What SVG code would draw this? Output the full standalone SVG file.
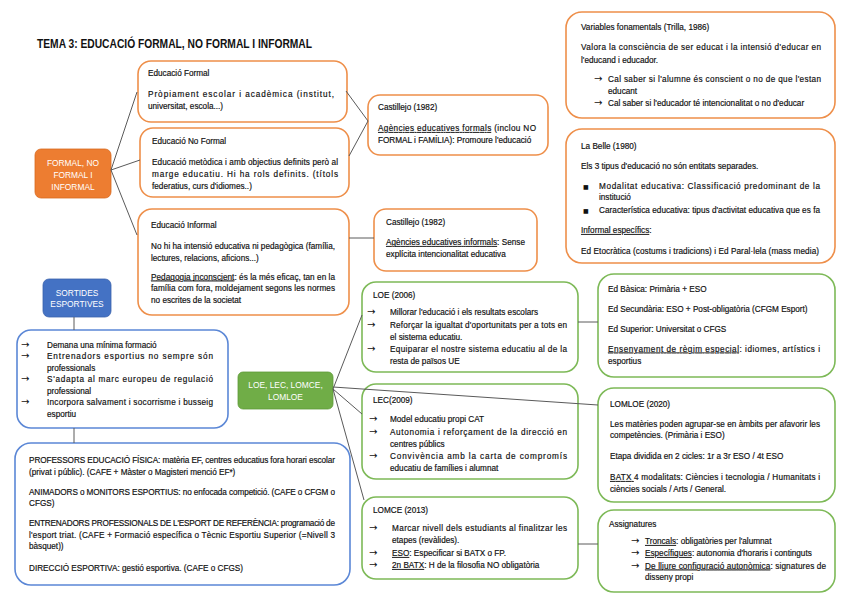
<svg xmlns="http://www.w3.org/2000/svg" width="848" height="599" viewBox="0 0 848 599">
<style>
text{font-family:"Liberation Sans",Arial,sans-serif;font-size:8.2px;fill:#111;stroke:#111;stroke-width:0.18}
.ttl{font-size:12.5px;font-weight:bold;fill:#111;stroke:none}
.w{fill:#fff;stroke:none;font-size:8.4px;text-anchor:middle}
.ar{font-family:"DejaVu Sans",sans-serif;font-size:10px;stroke:none}
.sq{font-family:"DejaVu Sans",sans-serif;font-size:6px;stroke:none}
.u{text-decoration:underline}
.bo{fill:#fff;stroke:#EE8F4A;stroke-width:1.6}
.bg{fill:#fff;stroke:#7DB957;stroke-width:1.6}
.bb{fill:#fff;stroke:#5B87D6;stroke-width:1.6}
.con line{stroke:#5a5a5a;stroke-width:1}
</style>
<rect width="848" height="599" fill="#fff"/>
<text class="ttl" x="37" y="47.5" textLength="275" lengthAdjust="spacingAndGlyphs">TEMA 3: EDUCACIÓ FORMAL, NO FORMAL I INFORMAL</text>

<g id="n-formal-root"><rect x="35" y="149" width="76" height="49" rx="6" fill="#ED7D31" stroke="#D86A20" stroke-width="0.8"/>
<text class="w" x="73" y="165.5">FORMAL, NO</text><text class="w" x="73" y="177.5">FORMAL I</text><text class="w" x="73" y="189.5">INFORMAL</text></g>

<g id="n-ed-formal"><rect class="bo" x="138" y="61" width="209" height="61" rx="13"/>
<text x="148" y="76">Educació Formal</text>
<text x="148" y="97" textLength="186">Pròpiament escolar i acadèmica (institut,</text>
<text x="148" y="109">universitat, escola...)</text></g>

<g id="n-ed-noformal"><rect class="bo" x="140" y="128" width="209" height="69" rx="13"/>
<text x="152" y="144">Educació No Formal</text>
<text x="152" y="164.5" textLength="186">Educació metòdica i amb objectius definits però al</text>
<text x="152" y="176.5" textLength="186">marge educatiu. Hi ha rols definits. (títols</text>
<text x="152" y="188.5">federatius, curs d'idiomes..)</text></g>

<g id="n-ed-informal"><rect class="bo" x="138" y="209" width="211" height="106" rx="14"/>
<text x="151" y="228">Educació Informal</text>
<text x="151" y="249" textLength="184">No hi ha intensió educativa ni pedagògica (família,</text>
<text x="151" y="260.5">lectures, relacions, aficions...)</text>
<text x="151" y="279.5" textLength="184"><tspan class="u">Pedagogia inconscient</tspan>: és la més eficaç, tan en la</text>
<text x="151" y="291" textLength="184">família com fora, moldejament segons les normes</text>
<text x="151" y="302.5">no escrites de la societat</text></g>

<g id="n-castillejo-1"><rect class="bo" x="368" y="95" width="180" height="60" rx="12"/>
<text x="378" y="110">Castillejo (1982)</text>
<text x="378" y="131" textLength="158"><tspan class="u">Agències educatives formals</tspan> (inclou NO</text>
<text x="378" y="143">FORMAL i FAMÍLIA): Promoure l'educació</text></g>

<g id="n-castillejo-2"><rect class="bo" x="374" y="209" width="163" height="62" rx="12"/>
<text x="386" y="225">Castillejo (1982)</text>
<text x="386" y="245" textLength="139"><tspan class="u">Agències educatives informals</tspan>: Sense</text>
<text x="386" y="257">explícita intencionalitat educativa</text></g>

<g id="n-variables"><rect class="bo" x="566" y="12" width="269" height="106" rx="16"/>
<text x="581" y="30">Variables fonamentals (Trilla, 1986)</text>
<text x="581" y="50" textLength="240">Valora la consciència de ser educat i la intensió d'educar en</text>
<text x="581" y="62.5">l'educand i educador.</text>
<text class="ar" x="594" y="82">→</text><text x="608" y="82" textLength="213">Cal saber si l'alumne és conscient o no de que l'estan</text>
<text x="608" y="94">educant</text>
<text class="ar" x="594" y="106">→</text><text x="608" y="106">Cal saber si l'educador té intencionalitat o no d'educar</text></g>

<g id="n-labelle"><rect class="bo" x="566" y="129" width="269" height="134" rx="16"/>
<text x="581" y="148.5">La Belle (1980)</text>
<text x="581" y="169">Els 3 tipus d'educació no són entitats separades.</text>
<text class="sq" x="583" y="189">■</text><text x="599" y="189" textLength="221">Modalitat educativa: Classificació predominant de la</text>
<text x="599" y="200">institució</text>
<text class="sq" x="583" y="213">■</text><text x="599" y="213" textLength="221">Característica educativa: tipus d'activitat educativa que es fa</text>
<text x="581" y="233"><tspan class="u">Informal específics</tspan>:</text>
<text x="581" y="254" textLength="238">Ed Etocràtica (costums i tradicions) i Ed Paral·lela (mass media)</text></g>

<g id="n-sortides"><rect x="43" y="279" width="68" height="38" rx="6" fill="#4472C4" stroke="#3A62AC" stroke-width="0.8"/>
<text class="w" x="77" y="295.5">SORTIDES</text><text class="w" x="77" y="307">ESPORTIVES</text></g>

<g id="n-sortides-list"><rect class="bb" x="17" y="330" width="211" height="98" rx="14"/>
<text class="ar" x="21" y="347.5">→</text><text x="47" y="347.5">Demana una mínima formació</text>
<text class="ar" x="21" y="359">→</text><text x="47" y="359" textLength="166">Entrenadors esportius no sempre són</text>
<text x="47" y="370.5">professionals</text>
<text class="ar" x="21" y="382">→</text><text x="47" y="382" textLength="166">S'adapta al marc europeu de regulació</text>
<text x="47" y="393.5">professional</text>
<text class="ar" x="21" y="405">→</text><text x="47" y="405" textLength="166">Incorpora salvament i socorrisme i busseig</text>
<text x="47" y="416.5">esportiu</text></g>

<g id="n-professions"><rect class="bb" x="15" y="443" width="335" height="142" rx="16"/>
<text x="29" y="463" textLength="306">PROFESSORS EDUCACIÓ FÍSICA: matèria EF, centres educatius fora horari escolar</text>
<text x="29" y="475">(privat i públic). (CAFE + Màster o Magisteri menció EF*)</text>
<text x="29" y="494.5" textLength="306">ANIMADORS o MONITORS ESPORTIUS: no enfocada competició. (CAFE o CFGM o</text>
<text x="29" y="506">CFGS)</text>
<text x="29" y="526" textLength="306">ENTRENADORS PROFESSIONALS DE L'ESPORT DE REFERÈNCIA: programació de</text>
<text x="29" y="537.5" textLength="306">l'esport triat. (CAFE + Formació específica o Tècnic Esportiu Superior (=Nivell 3</text>
<text x="29" y="549">bàsquet))</text>
<text x="29" y="570.5">DIRECCIÓ ESPORTIVA: gestió esportiva. (CAFE o CFGS)</text></g>

<g id="n-lleis"><rect x="238" y="372" width="95" height="37" rx="5" fill="#70AD47" stroke="#5E9A38" stroke-width="0.8"/>
<text class="w" x="285.5" y="388">LOE, LEC, LOMCE,</text><text class="w" x="285.5" y="399.5">LOMLOE</text></g>

<g id="n-loe"><rect class="bg" x="362" y="282" width="216" height="90" rx="14"/>
<text x="373" y="298">LOE (2006)</text>
<text class="ar" x="367" y="315">→</text><text x="390" y="315">Millorar l'educació i els resultats escolars</text>
<text class="ar" x="367" y="328">→</text><text x="390" y="328" textLength="177">Reforçar la igualtat d'oportunitats per a tots en</text>
<text x="390" y="340">el sistema educatiu.</text>
<text class="ar" x="367" y="352">→</text><text x="390" y="352" textLength="177">Equiparar el nostre sistema educatiu al de la</text>
<text x="390" y="364">resta de països UE</text></g>

<g id="n-etapes"><rect class="bg" x="598" y="274" width="237" height="103" rx="16"/>
<text x="608" y="292">Ed Bàsica: Primària + ESO</text>
<text x="608" y="312">Ed Secundària: ESO + Post-obligatòria (CFGM Esport)</text>
<text x="608" y="331.5">Ed Superior: Universitat o CFGS</text>
<text x="608" y="351.5" textLength="212"><tspan class="u">Ensenyament de règim especial</tspan>: idiomes, artístics i</text>
<text x="608" y="363.5">esportius</text></g>

<g id="n-lec"><rect class="bg" x="362" y="384" width="216" height="95" rx="14"/>
<text x="373" y="402.5">LEC(2009)</text>
<text class="ar" x="369" y="421.5">→</text><text x="390" y="421.5">Model educatiu propi CAT</text>
<text class="ar" x="369" y="434.5">→</text><text x="390" y="434.5" textLength="177">Autonomia i reforçament de la direcció en</text>
<text x="390" y="446.5">centres públics</text>
<text class="ar" x="369" y="459">→</text><text x="390" y="459" textLength="177">Convivència amb la carta de compromís</text>
<text x="390" y="470.5">educatiu de famílies i alumnat</text></g>

<g id="n-lomloe"><rect class="bg" x="598" y="388" width="237" height="114" rx="16"/>
<text x="610" y="406.5">LOMLOE (2020)</text>
<text x="610" y="426.5" textLength="210">Les matèries poden agrupar-se en àmbits per afavorir les</text>
<text x="610" y="438">competències. (Primària i ESO)</text>
<text x="610" y="459">Etapa dividida en 2 cicles: 1r a 3r ESO / 4t ESO</text>
<text x="610" y="480" textLength="210"><tspan class="u">BATX </tspan>4 modalitats: Ciències i tecnologia / Humanitats i</text>
<text x="610" y="492">ciències socials / Arts / General.</text></g>

<g id="n-lomce"><rect class="bg" x="362" y="497" width="216" height="82" rx="14"/>
<text x="373" y="513">LOMCE (2013)</text>
<text class="ar" x="369" y="530.5">→</text><text x="392" y="530.5" textLength="175">Marcar nivell dels estudiants al finalitzar les</text>
<text x="392" y="542.5">etapes (revàlides).</text>
<text class="ar" x="369" y="556">→</text><text x="392" y="556"><tspan class="u">ESO</tspan>: Especificar si BATX o FP.</text>
<text class="ar" x="369" y="568">→</text><text x="392" y="568"><tspan class="u">2n BATX</tspan>: H de la filosofia NO obligatòria</text></g>

<g id="n-assignatures"><rect class="bg" x="598" y="510" width="237" height="82" rx="16"/>
<text x="609" y="527">Assignatures</text>
<text class="ar" x="631" y="544">→</text><text x="645" y="544"><tspan class="u">Troncals</tspan>: obligatòries per l'alumnat</text>
<text class="ar" x="631" y="556">→</text><text x="645" y="556"><tspan class="u">Específiques</tspan>: autonomia d'horaris i continguts</text>
<text class="ar" x="631" y="568.5">→</text><text x="645" y="568.5" textLength="181"><tspan class="u">De lliure configuració autonòmica</tspan>: signatures de</text>
<text x="645" y="580">disseny propi</text></g>

<g id="connectors" class="con">
<line x1="111" y1="170" x2="137" y2="92"/>
<line x1="111" y1="170" x2="140" y2="160"/>
<line x1="111" y1="170" x2="137" y2="235"/>
<line x1="346" y1="91" x2="368" y2="121"/>
<line x1="349" y1="156" x2="368" y2="121"/>
<line x1="349" y1="238" x2="374" y2="238"/>
<line x1="74" y1="317" x2="74" y2="330"/>
<line x1="74" y1="428" x2="74" y2="443"/>
<line x1="333" y1="389" x2="362" y2="315"/>
<line x1="333" y1="387" x2="598" y2="405"/>
<line x1="333" y1="389" x2="362" y2="414"/>
<line x1="333" y1="389" x2="364" y2="500"/>
<line x1="578" y1="322" x2="598" y2="322"/>
<line x1="578" y1="544" x2="598" y2="544"/>
</g>
</svg>
